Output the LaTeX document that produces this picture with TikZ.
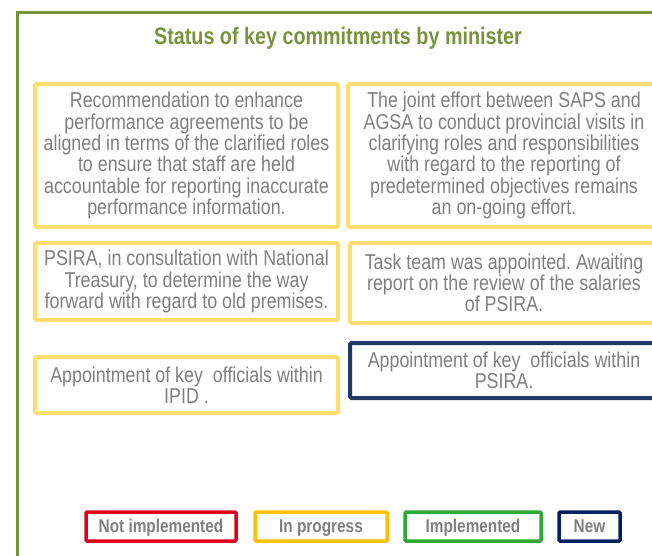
\documentclass[tikz,border=0pt]{standalone}
\usepackage{fontspec}
\setmainfont{Liberation Sans}[FakeStretch=0.83]
\usepackage{tikz}
\usetikzlibrary{positioning}
\definecolor{frameGreen}{HTML}{77933C}
\definecolor{boxYellow}{HTML}{FFDD70}
\definecolor{txtGrey}{HTML}{7F7F7F}
\definecolor{legRed}{HTML}{E0001B}
\definecolor{legYellow}{HTML}{FFC000}
\definecolor{legGreen}{HTML}{2EA836}
\definecolor{legNavy}{HTML}{002060}
\definecolor{boxNavy}{HTML}{1F3864}
\frenchspacing
\tikzset{
  commit/.style={draw=boxYellow,line width=4pt,rounded corners=1.5pt,align=center,
    text=txtGrey,font=\fontsize{21.5}{21.3}\selectfont,inner sep=1pt},
  legend/.style={draw,line width=3.5pt,rounded corners=1pt,text=txtGrey,
    font=\bfseries\fontsize{18.5}{20}\selectfont,minimum height=29pt,inner sep=0pt,
    text height=15pt,text depth=2.5pt},
}

\begin{document}
\begin{tikzpicture}[x=1pt,y=-1pt]
      \useasboundingbox (0,0) rectangle (652,555);
      \draw[frameGreen,line width=3pt] (17,570) -- (17,12) -- (670,12);
      \node[text=frameGreen,font=\bfseries\fontsize{23.8}{26}\selectfont] (title) at (338,38) {Status of key commitments by minister};

      \node[commit,minimum width=303pt,minimum height=143pt] (perf) at (186.5,155.5)
        {Recommendation to enhance\\ performance agreements to be\\ aligned in terms of the clarified roles\\ to ensure that staff are held\\ accountable for reporting inaccurate\\ performance information.};
      \node[commit,minimum width=312pt,minimum height=143pt] (saps) at (504,155.5)
        {The joint effort between SAPS and\\ AGSA to conduct provincial visits in\\ clarifying roles and responsibilities\\ with regard to the reporting of\\ predetermined objectives remains\\ an on-going effort.};
      \node[commit,minimum width=303pt,minimum height=77pt] (prem) at (186.5,281.5)
        {PSIRA, in consultation with National\\ Treasury, to determine the way\\ forward with regard to old premises.};
      \node[commit,minimum width=308pt,minimum height=80pt] (task) at (504,283)
        {Task team was appointed. Awaiting\\ report on the review of the salaries\\ of PSIRA.};
      \node[commit,minimum width=303pt,minimum height=56pt] (ipid) at (186.5,385)
        {Appointment of key\ \ officials within\\ IPID .};
      \node[commit,draw=boxNavy,minimum width=308pt,minimum height=55pt] (psira) at (504,370.5)
        {Appointment of key\ \ officials within\\ PSIRA.};

      \node[legend,draw=legRed,minimum width=150pt] (notimp) at (161,526.5) {Not implemented};
      \node[legend,draw=legYellow,minimum width=132pt] (inprog) at (321,526.5) {In progress};
      \node[legend,draw=legGreen,minimum width=136pt] (imp) at (473,526.5) {Implemented};
      \node[legend,draw=legNavy,minimum width=61pt] (new) at (589.5,526.5) {New};
    \end{tikzpicture}
\end{document}
